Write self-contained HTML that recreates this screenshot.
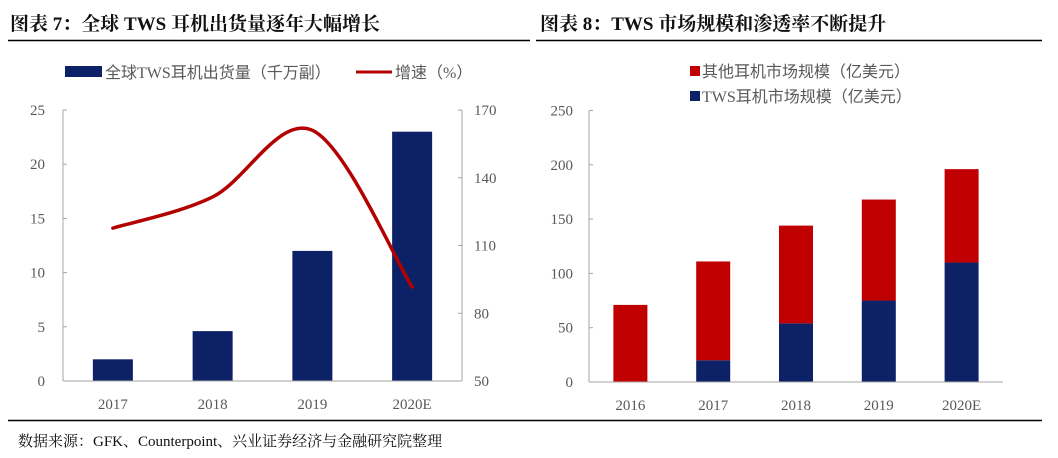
<!DOCTYPE html>
<html><head><meta charset="utf-8"><style>
body{margin:0;background:#fff;width:1058px;height:458px;overflow:hidden}
svg{display:block}
.t{font-family:"Liberation Serif","Noto Serif CJK SC",serif;fill:#595959;font-size:15px}
.h{font-family:"Liberation Serif","Noto Serif CJK SC",serif;font-weight:bold;font-size:19px;fill:#111}
.lg{font-family:"Liberation Serif","Noto Sans CJK SC",sans-serif;fill:#595959;font-size:16px}
</style></head><body>
<svg id="s" width="1058" height="458">
<text class="h" x="10" y="30">图表 7：全球 TWS 耳机出货量逐年大幅增长</text>
<text class="h" x="540" y="30">图表 8：TWS 市场规模和渗透率不断提升</text>
<line x1="8" y1="40.5" x2="530" y2="40.5" stroke="#000" stroke-width="1.5"/>
<line x1="536" y1="40.5" x2="1042" y2="40.5" stroke="#000" stroke-width="1.5"/>
<line x1="8" y1="420.5" x2="1042" y2="420.5" stroke="#000" stroke-width="1.5"/>
<text class="t" x="18" y="446" style="fill:#111;font-size:15px">数据来源：GFK、Counterpoint、兴业证券经济与金融研究院整理</text>
<g>
<rect x="65" y="66" width="37" height="11" fill="#0d2167"/>
<text class="lg" x="105" y="78">全球TWS耳机出货量（千万副）</text>
<line x1="356" y1="72" x2="392" y2="72" stroke="#b30000" stroke-width="3"/>
<text class="lg" x="395" y="78">增速（%）</text>
</g>
<g>
<rect x="690" y="66" width="10" height="10" fill="#c00000"/>
<text class="lg" x="702" y="77">其他耳机市场规模（亿美元）</text>
<rect x="690" y="91" width="10" height="10" fill="#0d2167"/>
<text class="lg" x="702" y="102">TWS耳机市场规模（亿美元）</text>
</g>
<g id="L"></g><g id="R"></g>
</svg>
<script>
const leftCats=["2017","2018","2019","2020E"];
const shipments=[2,4.6,12,23];
const growth=[117.7,131.5,161,91.6];
const leftTicks=[0,5,10,15,20,25];
const rightTicksL=[50,80,110,140,170];
const rightCats=["2016","2017","2018","2019","2020E"];
const twsSize=[0,20,54,75,110];
const otherSize=[71,91,90,93,86];
const sizeTicks=[0,50,100,150,200,250];
const NS="http://www.w3.org/2000/svg";
function mk(p,tag,a,txt){const e=document.createElementNS(NS,tag);for(const k in a)e.setAttribute(k,a[k]);if(txt!=null)e.textContent=txt;p.appendChild(e);return e;}
// left chart
const L=document.getElementById('L');
const lx0=63,lx1=462,y0=381,yt=110;
const ly=v=>y0-v/25*(y0-yt);
const ry=v=>y0-(v-50)/120*(y0-yt);
const bw=(lx1-lx0)/leftCats.length;
const lcx=i=>lx0+bw*(i+0.5);
let e;
e=mk(L,'line',{x1:lx0,y1:yt,x2:lx0,y2:y0,stroke:'#a6a6a6'});


e=mk(L,'line',{x1:lx1,y1:yt,x2:lx1,y2:y0,stroke:'#a6a6a6'});


leftTicks.forEach(v=>{
 mk(L,'line',{x1:lx0,y1:ly(v),x2:lx0+4,y2:ly(v),stroke:'#a6a6a6'});
 e=mk(L,'text',{class:'t',x:lx0-18,y:ly(v)+5,'text-anchor':'end'},v);
 
 
});
rightTicksL.forEach(v=>{
 mk(L,'line',{x1:lx1-4,y1:ry(v),x2:lx1,y2:ry(v),stroke:'#a6a6a6'});
 e=mk(L,'text',{class:'t',x:lx1+12,y:ry(v)+5},v);
 
 
});
leftCats.forEach((c,i)=>{
 const h=y0-ly(shipments[i]);
 e=mk(L,'rect',{x:lcx(i)-20,y:ly(shipments[i]),width:40,height:h,fill:'#0d2167'});
 
 
 e=mk(L,'text',{class:'t',x:lcx(i),y:y0+28,'text-anchor':'middle'},c);
 
 
});
e=mk(L,'line',{x1:lx0,y1:y0,x2:lx1,y2:y0,stroke:'#a6a6a6'});


const pts=growth.map((v,i)=>[lcx(i),ry(v)]);
let d='M'+pts[0].join(',');
for(let i=0;i<pts.length-1;i++){
 const p0=pts[Math.max(i-1,0)],p1=pts[i],p2=pts[i+1],p3=pts[Math.min(i+2,pts.length-1)];
 const t=1/6;
 d+=` C${p1[0]+(p2[0]-p0[0])*t},${p1[1]+(p2[1]-p0[1])*t} ${p2[0]-(p3[0]-p1[0])*t},${p2[1]-(p3[1]-p1[1])*t} ${p2[0]},${p2[1]}`;
}
e=mk(L,'path',{d:d,fill:'none',stroke:'#b30000','stroke-width':3.5,'stroke-linecap':'round'});


// right chart
const R=document.getElementById('R');
const rx0=589,rx1=1003,ry0=382,ryt=110.5;
const sy=v=>ry0-v/250*(ry0-ryt);
const rbw=(rx1-rx0)/rightCats.length;
const rcx=i=>rx0+rbw*(i+0.5);
e=mk(R,'line',{x1:rx0,y1:ryt,x2:rx0,y2:ry0,stroke:'#a6a6a6'});


sizeTicks.forEach(v=>{
 mk(R,'line',{x1:rx0,y1:sy(v),x2:rx0+4,y2:sy(v),stroke:'#a6a6a6'});
 e=mk(R,'text',{class:'t',x:rx0-16,y:sy(v)+5,'text-anchor':'end'},v);
 
 
});
rightCats.forEach((c,i)=>{
 const tw=twsSize[i],ot=otherSize[i];
 e=mk(R,'rect',{x:rcx(i)-17,y:sy(tw),width:34,height:ry0-sy(tw),fill:'#0d2167'});
 
 
 e=mk(R,'rect',{x:rcx(i)-17,y:sy(tw+ot),width:34,height:sy(tw)-sy(tw+ot),fill:'#c00000'});
 
 
 e=mk(R,'text',{class:'t',x:rcx(i),y:ry0+28,'text-anchor':'middle'},c);
 
 
});
e=mk(R,'line',{x1:rx0,y1:ry0,x2:rx1,y2:ry0,stroke:'#a6a6a6'});


</script>
</body></html>
